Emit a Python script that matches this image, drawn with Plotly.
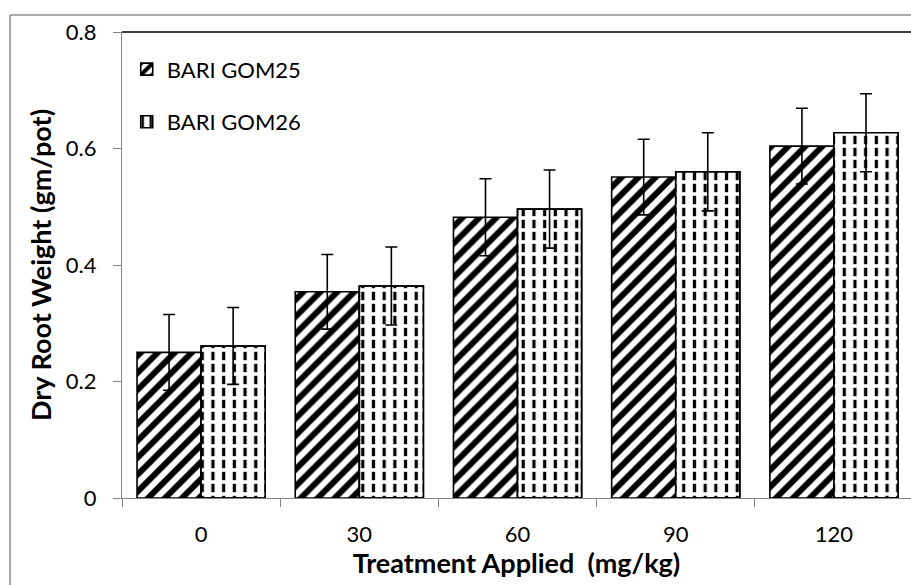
import plotly.graph_objects as go

categories = ["0", "30", "60", "90", "120"]
gom25 = [0.250, 0.354, 0.482, 0.551, 0.604]
gom25_err = [0.065, 0.064, 0.066, 0.065, 0.065]
gom26 = [0.261, 0.364, 0.496, 0.560, 0.627]
gom26_err = [0.066, 0.067, 0.067, 0.067, 0.067]
y_ticks = [0, 0.2, 0.4, 0.6, 0.8]
y_ticklabels = ["0", "0.2", "0.4", "0.6", "0.8"]

FONT = "Lato, Carlito, 'DejaVu Sans', sans-serif"
BW = 0.405

fig = go.Figure()

fig.add_trace(go.Bar(
    x=categories, y=gom25, name="BARI GOM25",
    width=BW, offset=-BW,
    marker=dict(color="white", line=dict(color="black", width=1.6),
                pattern=dict(shape="/", fgcolor="black", bgcolor="white",
                             fgopacity=1, size=12, solidity=0.5)),
    error_y=dict(type="data", array=gom25_err, color="black", thickness=1.6, width=6),
    legendgroup="a",
))

fig.add_trace(go.Bar(
    x=categories, y=gom26, name="BARI GOM26",
    width=BW, offset=0,
    marker=dict(color="white", line=dict(color="black", width=1.6),
                pattern=dict(shape="|", fgcolor="black", bgcolor="white",
                             fgopacity=1, size=10.7, solidity=0.3)),
    legendgroup="b",
))

fig.add_trace(go.Bar(
    x=categories, y=gom26, name="BARI GOM26 dashes",
    width=BW, offset=0, showlegend=False, hoverinfo="skip",
    marker=dict(color="rgba(0,0,0,0)", line=dict(color="black", width=1.6),
                pattern=dict(shape="-", fgcolor="white", bgcolor="rgba(0,0,0,0)",
                             fillmode="replace", fgopacity=1, size=12, solidity=0.3)),
    error_y=dict(type="data", array=gom26_err, color="black", thickness=1.6, width=6),
    legendgroup="b",
))

L, R, T, B = 122, 0, 32, 87
W, H = 911, 585
pw = W - L - R
ph = H - T - B

fig.update_layout(
    template="none",
    width=W, height=H,
    margin=dict(l=L, r=R, t=T, b=B, autoexpand=False),
    barmode="overlay",
    paper_bgcolor="white", plot_bgcolor="white",
    font=dict(family=FONT, size=22, color="black"),
    showlegend=True,
    legend=dict(x=0.006, y=0.965, xanchor="left", yanchor="top",
                bgcolor="rgba(0,0,0,0)", font=dict(size=22),
                tracegroupgap=21, itemwidth=30),
    xaxis=dict(type="category", range=[-0.5, 4.487], automargin=False,
               showline=True, linecolor="#868686", linewidth=1.2,
               ticks="outside", tickson="boundaries", ticklen=8,
               tickcolor="#868686", tickwidth=1.2,
               showgrid=False, zeroline=False,
               ticklabelstandoff=16,
               tickfont=dict(size=22),
               title=dict(text="<b>Treatment Applied  (mg/kg)</b>",
                          font=dict(size=27), standoff=1)),
    yaxis=dict(range=[0, 0.8], tickvals=y_ticks, ticktext=y_ticklabels, automargin=False,
               showline=True, linecolor="#868686", linewidth=1.2,
               ticks="outside", ticklen=8, tickcolor="#868686", tickwidth=1.2,
               showgrid=False, zeroline=False,
               ticklabelstandoff=12,
               tickfont=dict(size=22),
               title=dict(text="<b>Dry Root Weight (gm/pot)</b>",
                          font=dict(size=27), standoff=6)),
)

# top border of the plot area
fig.add_shape(type="line", xref="paper", yref="paper", x0=0, x1=1, y0=1, y1=1,
              line=dict(color="black", width=1.5))
# outer chart border (right and bottom sides cropped away)
y_top = 1 + (T - 15) / ph
x_left = (10 - L) / pw
fig.add_shape(type="line", xref="paper", yref="paper",
              x0=x_left, x1=1, y0=y_top, y1=y_top,
              line=dict(color="#8c8c8c", width=1.5), layer="below")
fig.add_shape(type="line", xref="paper", yref="paper",
              x0=x_left, x1=x_left, y0=y_top, y1=-B / ph,
              line=dict(color="#8c8c8c", width=1.5), layer="below")

fig.write_html("out.html")
